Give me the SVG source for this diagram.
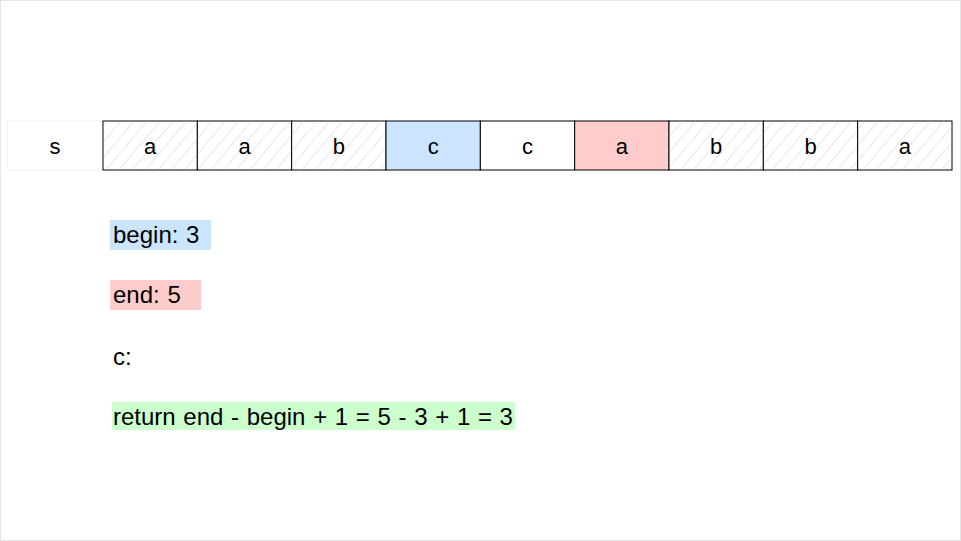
<svg xmlns="http://www.w3.org/2000/svg" width="961" height="541" viewBox="0 0 961 541">
<defs>
<pattern id="hatch" patternUnits="userSpaceOnUse" width="10" height="10" patternTransform="rotate(40)">
<line x1="0" y1="0" x2="0" y2="10" stroke="#cfcfcf" stroke-width="1"/>
</pattern>
<style>
.cell{stroke:#000;stroke-width:1}
.hat{fill:url(#hatch)}
.t{font-family:"Liberation Sans",Arial,sans-serif;font-size:22px;fill:#000;text-anchor:middle}
.lbl{font-family:"Liberation Sans",Arial,sans-serif;font-size:24px;fill:#000;word-spacing:1px}
</style>
</defs>
<rect x="0.5" y="0.5" width="960" height="540" fill="#fff" stroke="#e6e6e6"/>
<g id="cell-s"><rect x="7" y="121" width="96" height="49" fill="#fff" stroke="#f0f0f0"/><text class="t" x="55" y="154">s</text></g>
<g id="cell-1"><rect class="cell" x="103" y="121" width="94.33" height="49" fill="#fff"/><rect class="hat" x="103.5" y="121.5" width="93.33" height="48"/><text class="t" x="150.2" y="154">a</text></g>
<g id="cell-2"><rect class="cell" x="197.33" y="121" width="94.33" height="49" fill="#fff"/><rect class="hat" x="197.83" y="121.5" width="93.33" height="48"/><text class="t" x="244.5" y="154">a</text></g>
<g id="cell-3"><rect class="cell" x="291.67" y="121" width="94.33" height="49" fill="#fff"/><rect class="hat" x="292.17" y="121.5" width="93.33" height="48"/><text class="t" x="338.8" y="154">b</text></g>
<g id="cell-4"><rect class="cell" x="386" y="121" width="94.33" height="49" fill="#cce5ff"/><text class="t" x="433.2" y="154">c</text></g>
<g id="cell-5"><rect class="cell" x="480.33" y="121" width="94.33" height="49" fill="#fff"/><text class="t" x="527.5" y="154">c</text></g>
<g id="cell-6"><rect class="cell" x="574.67" y="121" width="94.33" height="49" fill="#ffcccc"/><text class="t" x="621.8" y="154">a</text></g>
<g id="cell-7"><rect class="cell" x="669" y="121" width="94.33" height="49" fill="#fff"/><rect class="hat" x="669.5" y="121.5" width="93.33" height="48"/><text class="t" x="716.2" y="154">b</text></g>
<g id="cell-8"><rect class="cell" x="763.33" y="121" width="94.33" height="49" fill="#fff"/><rect class="hat" x="763.83" y="121.5" width="93.33" height="48"/><text class="t" x="810.5" y="154">b</text></g>
<g id="cell-9"><rect class="cell" x="857.67" y="121" width="94.33" height="49" fill="#fff"/><rect class="hat" x="858.17" y="121.5" width="93.33" height="48"/><text class="t" x="904.8" y="154">a</text></g>
<g id="begin"><rect x="110" y="220" width="101" height="30" fill="#cce5ff"/><text class="lbl" x="113" y="243">begin: 3</text></g>
<g id="end"><rect x="110" y="280" width="91" height="30" fill="#ffcccc"/><text class="lbl" x="113" y="303">end: 5</text></g>
<g id="c"><text class="lbl" x="113" y="365">c:</text></g>
<g id="ret"><rect x="112" y="402" width="403" height="28" fill="#ccffcc"/><text class="lbl" x="113" y="425">return end - begin + 1 = 5 - 3 + 1 = 3</text></g>
<g id="connectors"/>
</svg>
